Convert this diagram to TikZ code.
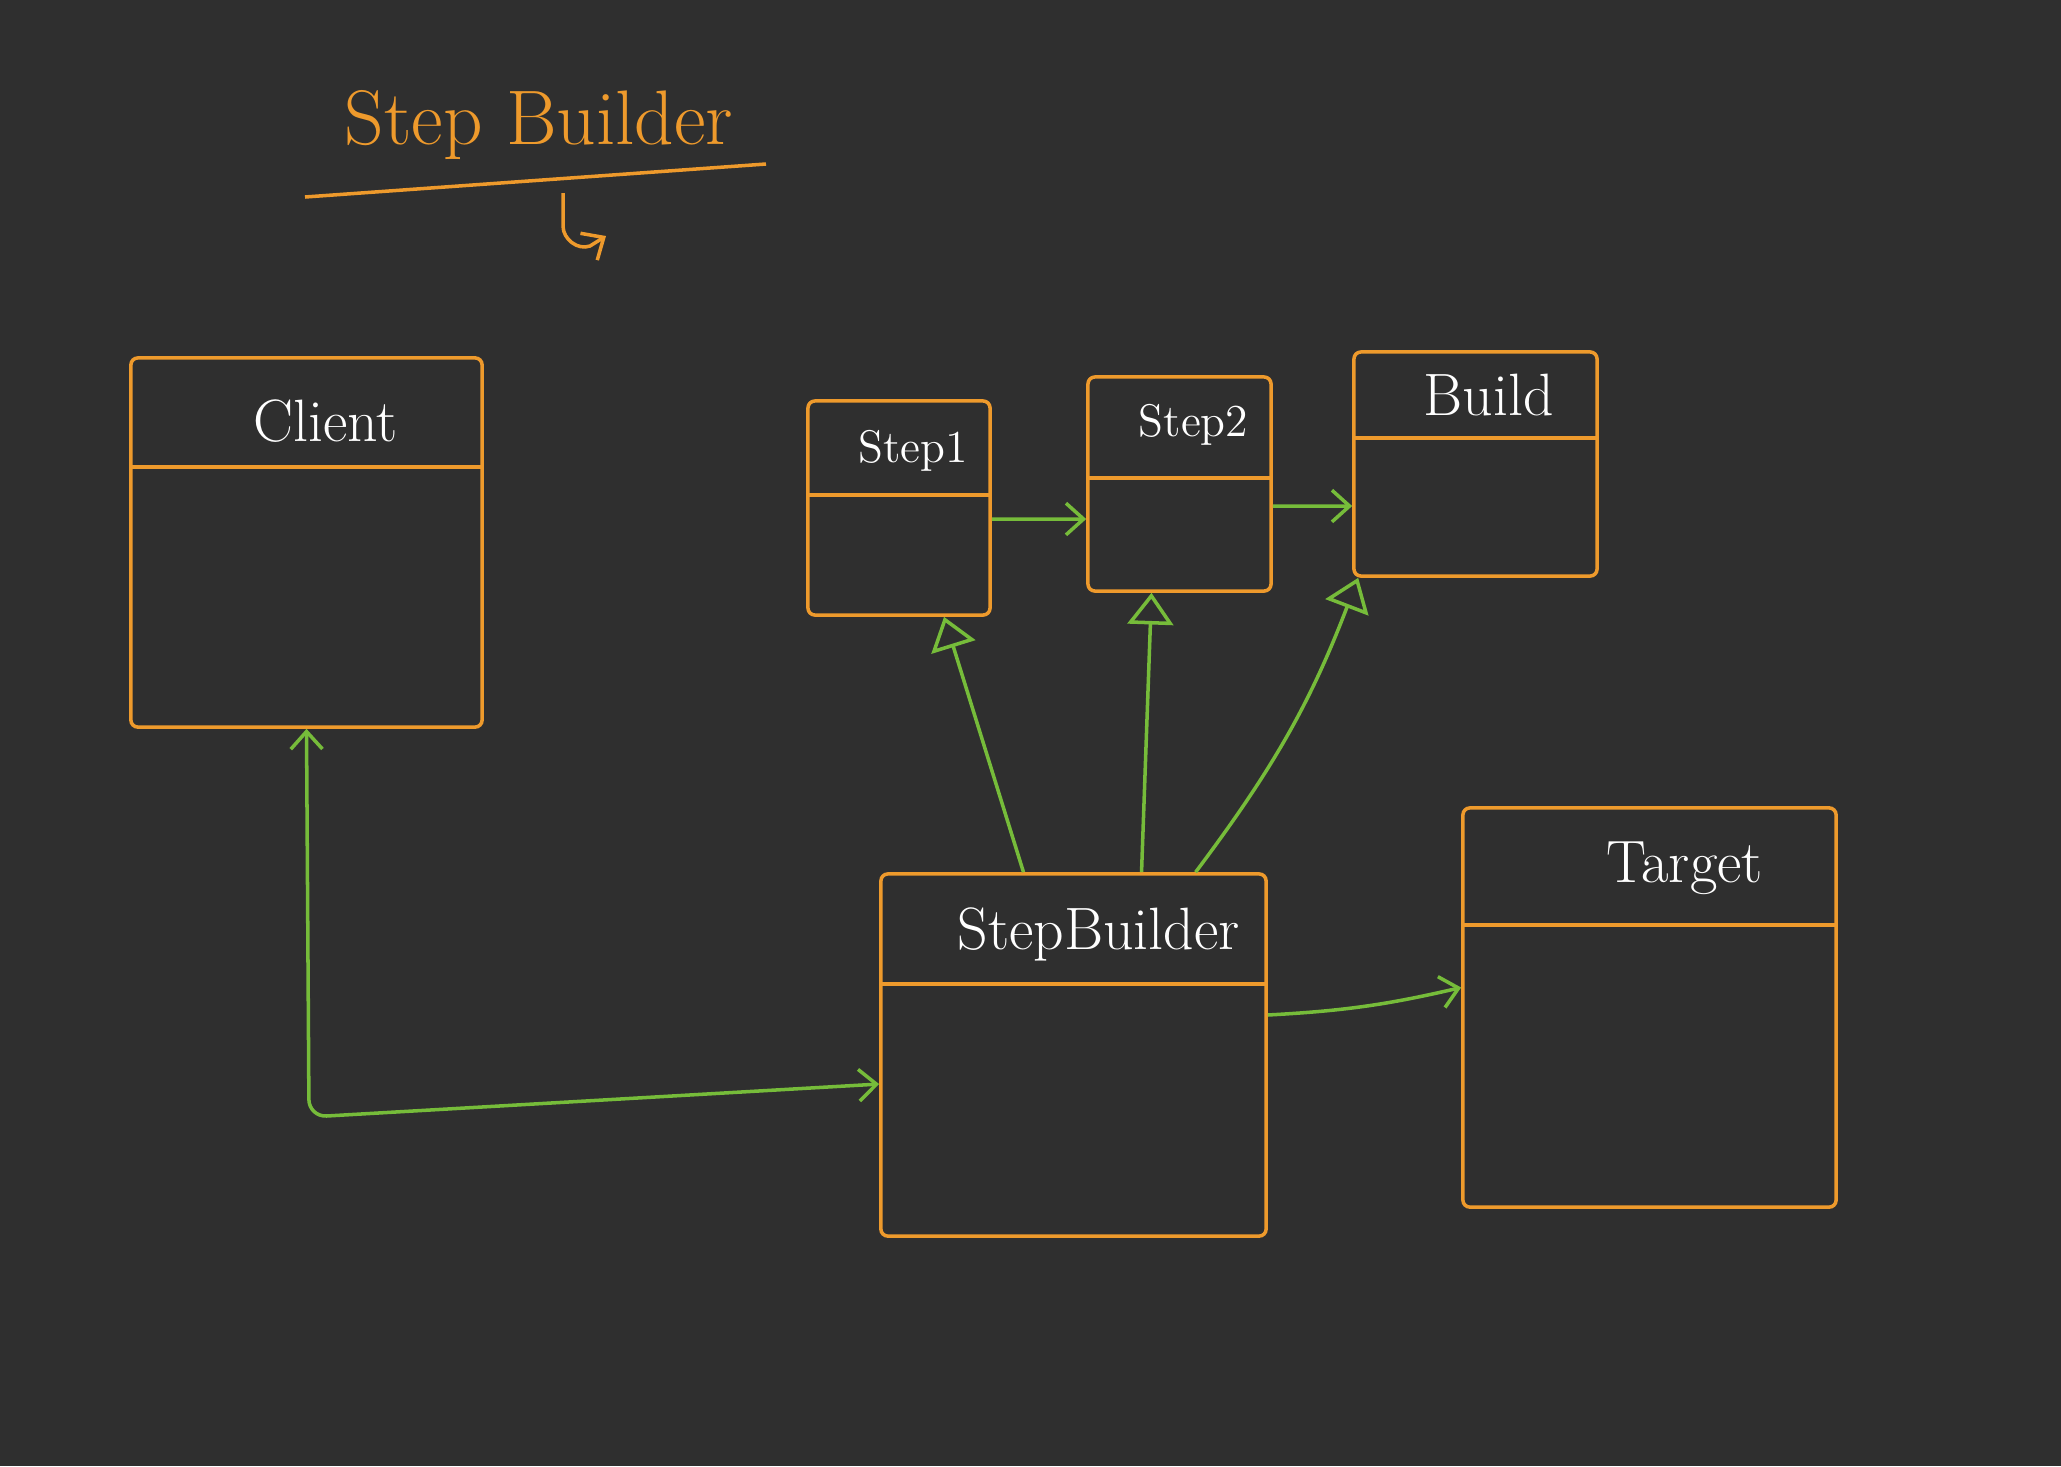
\documentclass[tikz,border=0pt]{standalone}
\usepackage{xcolor}
\usepackage{tikz}
\usetikzlibrary{arrows.meta,positioning}

\definecolor{board}{HTML}{2F2F2F}
\definecolor{pen}{HTML}{EE9A2C}
\definecolor{ink}{HTML}{76BC3A}

\begin{document}
\begin{tikzpicture}[
  x=0.01cm, y=-0.01cm,
  box/.style={draw=pen, line width=1pt, rounded corners=2pt, inner sep=0pt},
  lbl/.style={text=white, font=\fontsize{17}{20}\selectfont, inner sep=1pt},
  small/.style={lbl, font=\fontsize{13}{16}\selectfont},
  sep/.style={draw=pen, line width=1pt},
  link/.style={draw=ink, line width=1pt, -{Straight Barb[length=5pt, width=9pt]}},
  both/.style={draw=ink, line width=1pt,
               {Straight Barb[length=5pt, width=9pt]}-{Straight Barb[length=5pt, width=9pt]}},
  impl/.style={draw=ink, line width=1pt, -{Triangle[open, length=9pt, width=13pt]}}
]
  % board and margins
  \fill[board] (0,0) rectangle (2061,1466);
  \useasboundingbox (0,0) rectangle (2061,1466);

  % title
  \node[text=pen, font=\fontsize{22}{26}\selectfont] (title) at (539,125) {Step Builder};
  \draw[pen, line width=1pt] (305,197) -- (766,164);
  \draw[pen, line width=1pt, -{Straight Barb[length=5pt, width=9pt]}]
    (563,193) -- (563,226) to[out=-90, in=200] (590,246) -- (606,236);

  % classes
  \node[box, minimum width=3.51cm, minimum height=3.69cm] (client) at (306.5,542.5) {};
  \node[box, minimum width=1.82cm, minimum height=2.14cm] (step1)  at (899,508) {};
  \node[box, minimum width=1.83cm, minimum height=2.14cm] (step2)  at (1179.5,484) {};
  \node[box, minimum width=2.43cm, minimum height=2.24cm] (build)  at (1475.5,464) {};
  \node[box, minimum width=3.85cm, minimum height=3.62cm] (sb)     at (1073.5,1055) {};
  \node[box, minimum width=3.73cm, minimum height=3.99cm] (target) at (1649.5,1007.5) {};

  \node[lbl]   (clientname) at ([xshift=0.19cm, yshift=-0.65cm]client.north) {Client};
  \node[small] (step1name)  at ([xshift=0.14cm, yshift=-0.52cm]step1.north) {Step1};
  \node[small] (step2name)  at ([xshift=0.14cm, yshift=-0.50cm]step2.north) {Step2};
  \node[lbl]   (buildname)  at ([xshift=0.13cm, yshift=-0.45cm]build.north) {Build};
  \node[lbl]   (sbname)     at ([xshift=0.25cm, yshift=-0.62cm]sb.north) {StepBuilder};
  \node[lbl]   (targetname) at ([xshift=0.35cm, yshift=-0.62cm]target.north) {Target};

  % compartments
  \draw[sep] ([yshift=-1.11cm]client.north west) -- ([yshift=-1.11cm]client.north east);
  \draw[sep] ([yshift=-0.96cm]step1.north west) -- ([yshift=-0.96cm]step1.north east);
  \draw[sep] ([yshift=-1.03cm]step2.north west) -- ([yshift=-1.03cm]step2.north east);
  \draw[sep] ([yshift=-0.88cm]build.north west) -- ([yshift=-0.88cm]build.north east);
  \draw[sep] ([yshift=-1.12cm]sb.north west) -- ([yshift=-1.12cm]sb.north east);
  \draw[sep] ([yshift=-1.19cm]target.north west) -- ([yshift=-1.19cm]target.north east);

  % step chain
  \draw[link] ([yshift=-0.11cm]step1.east) -- ([yshift=-0.35cm]step2.west);
  \draw[link] ([yshift=-0.22cm]step2.east) -- ([yshift=-0.42cm]build.west);

  % builder implements the steps
  \draw[impl] ([xshift=-0.50cm]sb.north) -- ([xshift=0.45cm]step1.south);
  \draw[impl] ([xshift=0.68cm]sb.north) -- ([xshift=-0.28cm]step2.south);
  \draw[impl] ([xshift=1.22cm]sb.north) to[bend right=8] ([xshift=0.06cm]build.south west);

  % client uses builder, builder makes target
  \coordinate (turn) at (309,1117);
  \draw[both, rounded corners=5pt]
    (client.south) -- (turn) -- ([yshift=-0.29cm]sb.west);
  \draw[link] ([yshift=0.40cm]sb.east) to[bend right=5] ([yshift=0.20cm]target.west);
\end{tikzpicture}
\end{document}
